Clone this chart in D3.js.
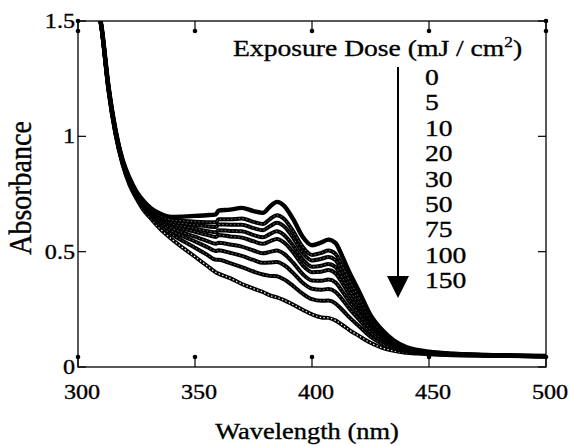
<!DOCTYPE html>
<html>
<head>
<meta charset="utf-8">
<script src="https://cdn.jsdelivr.net/npm/d3@7"></script>
<style>
  html, body { margin: 0; padding: 0; background: #fff; }
  svg { display: block; font-family: "Liberation Serif", "Times New Roman", serif; }
  text { stroke: #000; stroke-width: 0.35px; }
</style>
</head>
<body>
<div id="chart"></div>
<script>
// wavelengths (nm) shared by all spectra
const wavelength = [307,310,313,316,319,322,325,328,331,335,340,345,350,355,359,360,365,370,375,379,382,385,388,392,396,400,404,407,410,413,416,420,425,430,435,440,445,450,460,475,500];

// absorbance per exposure dose (mJ/cm2)
const dose0   = [1.62,1.48,1.22,1.03,0.90,0.82,0.76,0.72,0.69,0.665,0.65,0.652,0.655,0.658,0.662,0.678,0.682,0.690,0.676,0.668,0.695,0.716,0.700,0.640,0.565,0.528,0.540,0.552,0.538,0.478,0.410,0.330,0.225,0.160,0.115,0.088,0.074,0.066,0.058,0.052,0.048];
const dose5   = [1.62,1.479,1.217,1.027,0.897,0.816,0.756,0.714,0.684,0.656,0.637,0.633,0.630,0.628,0.627,0.640,0.640,0.644,0.629,0.620,0.641,0.658,0.643,0.588,0.521,0.486,0.495,0.505,0.491,0.437,0.375,0.303,0.208,0.149,0.109,0.084,0.072,0.064,0.057,0.052,0.048];
const dose10  = [1.62,1.478,1.216,1.026,0.896,0.813,0.753,0.711,0.680,0.651,0.629,0.622,0.616,0.610,0.607,0.618,0.617,0.617,0.602,0.593,0.610,0.625,0.610,0.559,0.495,0.462,0.469,0.477,0.464,0.413,0.355,0.287,0.199,0.143,0.105,0.082,0.070,0.064,0.056,0.051,0.048];
const dose20  = [1.62,1.477,1.214,1.024,0.894,0.811,0.751,0.708,0.676,0.645,0.621,0.610,0.600,0.590,0.584,0.593,0.590,0.588,0.572,0.562,0.576,0.588,0.573,0.525,0.467,0.435,0.439,0.447,0.434,0.386,0.333,0.270,0.188,0.136,0.101,0.080,0.069,0.063,0.056,0.051,0.047];
const dose30  = [1.62,1.476,1.212,1.022,0.892,0.808,0.748,0.704,0.672,0.640,0.613,0.599,0.586,0.573,0.564,0.572,0.566,0.561,0.545,0.534,0.545,0.555,0.540,0.496,0.441,0.411,0.413,0.420,0.407,0.363,0.313,0.254,0.178,0.130,0.098,0.078,0.068,0.062,0.055,0.051,0.047];
const dose50  = [1.62,1.475,1.210,1.020,0.890,0.805,0.745,0.700,0.667,0.632,0.602,0.582,0.565,0.547,0.534,0.539,0.531,0.522,0.505,0.493,0.499,0.505,0.491,0.451,0.403,0.375,0.374,0.379,0.367,0.327,0.283,0.231,0.164,0.121,0.092,0.075,0.066,0.060,0.054,0.050,0.047];
const dose75  = [1.62,1.474,1.207,1.017,0.887,0.801,0.741,0.695,0.662,0.624,0.590,0.566,0.544,0.521,0.503,0.506,0.495,0.482,0.464,0.452,0.453,0.455,0.442,0.407,0.365,0.339,0.335,0.338,0.326,0.292,0.253,0.207,0.149,0.112,0.087,0.072,0.064,0.059,0.054,0.050,0.047];
const dose100 = [1.62,1.472,1.204,1.014,0.884,0.797,0.737,0.689,0.655,0.614,0.576,0.545,0.517,0.488,0.465,0.465,0.450,0.433,0.414,0.401,0.395,0.393,0.380,0.351,0.318,0.294,0.287,0.288,0.276,0.247,0.215,0.178,0.131,0.100,0.080,0.068,0.062,0.057,0.053,0.050,0.046];
const dose150 = [1.62,1.47,1.20,1.01,0.88,0.79,0.73,0.68,0.645,0.60,0.555,0.515,0.478,0.44,0.41,0.405,0.385,0.36,0.34,0.325,0.31,0.302,0.29,0.27,0.248,0.228,0.215,0.213,0.202,0.182,0.16,0.135,0.105,0.083,0.07,0.062,0.058,0.055,0.051,0.049,0.046];

const doses  = ['0','5','10','20','30','50','75','100','150'];
const series = [dose0, dose5, dose10, dose20, dose30, dose50, dose75, dose100, dose150];

const xTicks = [300, 350, 400, 450, 500];
const yTicks = [0, 0.5, 1, 1.5];

const W = 570, H = 446;
const plot = { left: 78, right: 546, top: 21, bottom: 367 };
const sx = 1.15; // scanned text is a bit wide

const svg = d3.select('#chart').append('svg')
  .attr('width', W).attr('height', H);

const x = d3.scaleLinear().domain([300, 500]).range([plot.left, plot.right]);
const y = d3.scaleLinear().domain([0, 1.5]).range([plot.bottom, plot.top]);

svg.append('clipPath').attr('id', 'clip')
  .append('rect')
  .attr('x', plot.left).attr('y', plot.top)
  .attr('width', plot.right - plot.left).attr('height', plot.bottom - plot.top);

// ---- spectra ----
const line = d3.line()
  .x((d, i) => x(wavelength[i]))
  .y(d => y(d))
  .curve(d3.curveMonotoneX);

const curves = svg.append('g').attr('clip-path', 'url(#clip)');

series.slice().reverse().forEach((s, k) => {
  const idx = series.length - 1 - k;
  curves.append('path')
    .attr('d', line(s))
    .attr('fill', 'none')
    .attr('stroke', '#000')
    .attr('stroke-width', idx === 0 ? 4.4 : 4)
    .attr('stroke-linejoin', 'round');
  if (idx > 0) {
    // open-circle marker texture
    curves.append('path')
      .attr('d', line(s))
      .attr('fill', 'none')
      .attr('stroke', '#fff')
      .attr('stroke-width', idx === 8 ? 1.3 : 0.8)
      .attr('stroke-dasharray', '1.4,2.4')
      .attr('opacity', idx === 8 ? 0.95 : 0.55);
  }
});

// ---- frame + ticks ----
const axisG = svg.append('g').attr('stroke', '#000').attr('fill', 'none');
axisG.append('rect')
  .attr('x', plot.left).attr('y', plot.top)
  .attr('width', plot.right - plot.left).attr('height', plot.bottom - plot.top)
  .attr('stroke-width', 1.3);

const tickLen = 10;
xTicks.forEach(v => {
  // bottom (up) and top (down) ticks with a dot at the end
  axisG.append('line').attr('x1', x(v)).attr('x2', x(v))
    .attr('y1', plot.bottom).attr('y2', plot.bottom - tickLen).attr('stroke-width', 1.2);
  axisG.append('line').attr('x1', x(v)).attr('x2', x(v))
    .attr('y1', plot.top).attr('y2', plot.top + tickLen).attr('stroke-width', 1.2);
  svg.append('circle').attr('cx', x(v)).attr('cy', plot.bottom - tickLen).attr('r', 2.3);
  svg.append('circle').attr('cx', x(v)).attr('cy', plot.top + tickLen).attr('r', 2.3);
});
yTicks.forEach(v => {
  axisG.append('line').attr('x1', plot.left).attr('x2', plot.left + 8)
    .attr('y1', y(v)).attr('y2', y(v)).attr('stroke-width', 1.2);
  axisG.append('line').attr('x1', plot.right).attr('x2', plot.right - 8)
    .attr('y1', y(v)).attr('y2', y(v)).attr('stroke-width', 1.2);
});
[[plot.left, plot.top], [plot.right, plot.top]].forEach(([cx, cy]) =>
  svg.append('circle').attr('cx', cx).attr('cy', cy).attr('r', 2.3));

// ---- tick labels ----
function stretched(g, tx, ty, anchor, size, str) {
  return g.append('text')
    .attr('transform', `translate(${tx},${ty}) scale(${sx},1)`)
    .attr('text-anchor', anchor)
    .attr('font-size', size)
    .attr('fill', '#000')
    .text(str);
}

const labels = svg.append('g');
xTicks.forEach(v => stretched(labels, x(v) + 4, 399, 'middle', 21, v));
const fy = d3.format('~g');
yTicks.forEach(v => stretched(labels, plot.left - 3, y(v) + 7, 'end', 21, fy(v)));

// axis titles
labels.append('text')
  .attr('transform', `translate(${(plot.left + plot.right) / 2 - 5},439) scale(${sx},1)`)
  .attr('text-anchor', 'middle')
  .attr('font-size', 23)
  .text('Wavelength (nm)');

labels.append('text')
  .attr('transform', 'translate(31,188) rotate(-90) scale(1,1.1)')
  .attr('text-anchor', 'middle')
  .attr('font-size', 28)
  .text('Absorbance');

// ---- legend: dose list + arrow ----
const leg = svg.append('g');
const title = stretched(leg, 233, 56, 'start', 24, 'Exposure Dose (mJ / cm');
title.append('tspan').attr('font-size', 15).attr('dy', -9).text('2');
title.append('tspan').attr('dy', 9).text(')');

const legY = d3.scalePoint().domain(doses).range([85, 288]);
doses.forEach(d => stretched(leg, 425, legY(d), 'start', 24, d));

leg.append('line')
  .attr('x1', 398).attr('x2', 398).attr('y1', 67).attr('y2', 280)
  .attr('stroke', '#000').attr('stroke-width', 2);
leg.append('path')
  .attr('d', 'M387,276 L409,276 L398,298 Z')
  .attr('fill', '#000');
</script>
</body>
</html>
